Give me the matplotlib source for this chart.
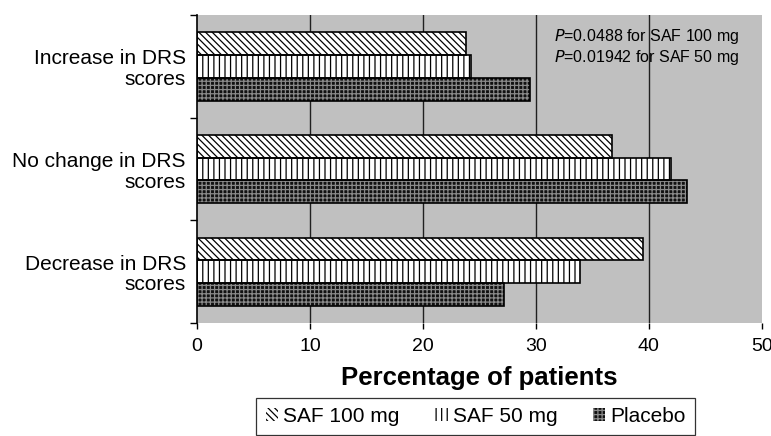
#horizontal bar chart of DRS score changes by treatment group

from matplotlib import pyplot as plt
from matplotlib.patches import Patch
import numpy as np

#data
categories = ['Increase in DRS\nscores', 'No change in DRS\nscores', 'Decrease in DRS\nscores']
groups = ['SAF 100 mg', 'SAF 50 mg', 'Placebo']
saf100 = [23.8, 36.7, 39.5]
saf50 = [24.3, 42.0, 33.9]
placebo = [29.5, 43.4, 27.2]
xticks = [0, 10, 20, 30, 40, 50]

#styles for each group: (face, hatch, hatch colour)
styles = [('white', '\\\\\\\\\\', 'black'),
          ('white', '|||', 'black'),
          ('#111111', '++++', '#8a8a8a')]

plt.rcParams['font.family'] = ['Liberation Sans', 'DejaVu Sans']
plt.rcParams['hatch.linewidth'] = 0.9

fig = plt.figure(figsize=(7.71, 4.36), dpi=100)
ax = fig.add_axes([0.2555, 0.259, 0.7325, 0.7066])
ax.set_facecolor('#c0c0c0')

y = np.arange(len(categories))
h = 0.222
offsets = [-h, 0, h]
for vals, off, (fc, hat, hc) in zip([saf100, saf50, placebo], offsets, styles):
    #hatched fill first, then a plain black outline on top
    ax.barh(y + off, vals, height=h, color=fc, hatch=hat, edgecolor=hc, linewidth=0, zorder=2)
    ax.barh(y + off, vals, height=h, fill=False, edgecolor='black', linewidth=1.2, zorder=3)

ax.set_xlim(0, 50)
ax.set_ylim(2.5, -0.5)
ax.set_xticks(xticks)
ax.tick_params(axis='x', labelsize=14, length=4, width=1, direction='out', pad=7)
for xv in xticks[1:-1]:
    ax.axvline(xv, color='#202020', linewidth=1, zorder=1)

ax.set_yticks(y)
ax.set_yticklabels(categories, fontsize=15, ha='right', multialignment='right',
                   linespacing=1.1)
ax.tick_params(axis='y', which='major', length=0, pad=8)
ax.set_yticks([-0.5, 0.5, 1.5, 2.5], minor=True)
ax.tick_params(axis='y', which='minor', length=5, width=1, direction='out')

for s in ['top', 'right', 'bottom']:
    ax.spines[s].set_visible(False)
ax.spines['left'].set_linewidth(1.2)

ax.set_xlabel('Percentage of patients', fontsize=18.5, fontweight='bold', labelpad=8)

ax.text(0.632, 0.96, '$\\it{P}$=0.0488 for SAF 100 mg\n$\\it{P}$=0.01942 for SAF 50 mg',
        transform=ax.transAxes, fontsize=11.5, va='top', ha='left', linespacing=1.1,
        zorder=5)

handles = [Patch(facecolor=fc, hatch=hat, edgecolor=hc, linewidth=0) for fc, hat, hc in styles]
leg = fig.legend(handles, groups, loc='upper center', bbox_to_anchor=(0.617, 0.088),
                 ncol=3, fontsize=15, frameon=True, fancybox=False, edgecolor='black',
                 handlelength=0.6, handleheight=0.6, handletextpad=0.25,
                 columnspacing=1.7, borderpad=0.45, borderaxespad=0)
leg.get_frame().set_linewidth(0.9)

fig.savefig('out.png', dpi=100)
